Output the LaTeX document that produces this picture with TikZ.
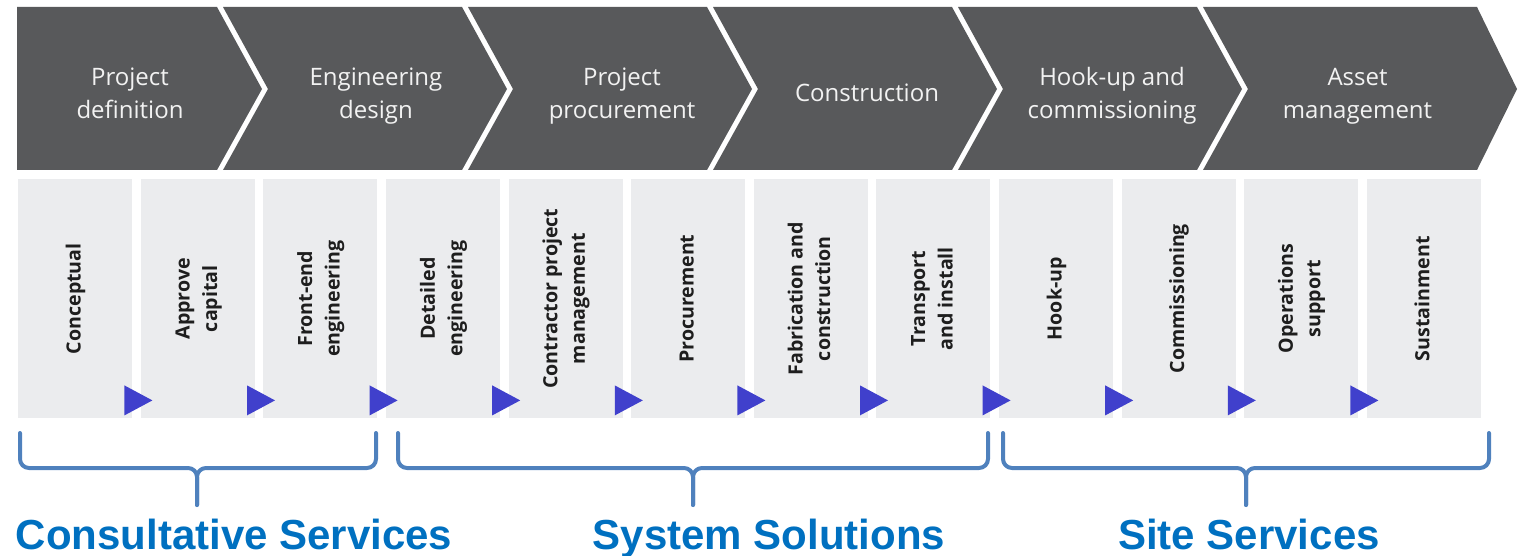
\documentclass[tikz,border=0pt]{standalone}
\usepackage{fontspec}
\usepackage{graphicx}
\setmainfont{Open Sans}
\newfontfamily\labelfont{Liberation Sans}
\usetikzlibrary{calc}
\definecolor{chev}{RGB}{88,89,91}
\definecolor{boxgray}{RGB}{235,236,238}
\definecolor{triblue}{RGB}{64,64,204}
\definecolor{braceblue}{RGB}{79,129,189}
\definecolor{lbl}{RGB}{0,112,192}
\definecolor{chevtext}{RGB}{242,242,242}
\definecolor{boxtext}{RGB}{30,30,30}
\newcommand\groupbrace[3]{%
  \draw[bracepath,rounded corners=9pt] (#1,433) -- (#1,468) -- (#2,468) -- (#2,505);
  \draw[bracepath,rounded corners=9pt] (#3,433) -- (#3,468) -- (#2,468) -- (#2,505);}
\begin{document}
\begin{tikzpicture}[x=1pt,y=-1pt,
  chevtxt/.style={text=chevtext, font=\fontsize{24}{33}\selectfont, align=center, inner sep=0pt},
  stagebox/.style={fill=boxgray, draw=none, minimum width=114pt, minimum height=239pt,
     anchor=north west, inner sep=0pt, text=boxtext, font=\bfseries\fontsize{19.6}{27.5}\selectfont},
  tri/.style={fill=triblue},
  bracepath/.style={draw=braceblue, line width=4pt, line cap=round, line join=round},
  grouplabel/.style={text=lbl, font=\labelfont\bfseries\fontsize{42}{50}\selectfont, anchor=base, inner sep=0pt}]
\useasboundingbox (0,0) rectangle (1518,556);
% chevrons
\fill[chev] (17,7) -- (217,7) -- (262,89) -- (217,170) -- (17,170) -- cycle;
\foreach \i in {1,...,4}{
  \fill[chev] ({223+245*(\i-1)},7) -- ({217+245*\i},7) -- ({262+245*\i},89) -- ({217+245*\i},170)
     -- ({223+245*(\i-1)},170) -- ({268+245*(\i-1)},89) -- cycle;
}
\fill[chev] (1203,7) -- (1477,7) -- (1517,89) -- (1477,170) -- (1203,170) -- (1248,89) -- cycle;
\node[chevtxt] (c1) at (130,95) {\strut Project\\\strut definition};
\node[chevtxt] (c2) at (376,95) {\strut Engineering\\\strut design};
\node[chevtxt] (c3) at (622,95) {\strut Project\\\strut procurement};
\node[chevtxt] (c4) at (867,94.5) {\strut Construction};
\node[chevtxt] (c5) at (1112,95) {\strut Hook-up and\\\strut commissioning};
\node[chevtxt] (c6) at (1357.5,95) {\strut Asset\\\strut management};
% stage boxes
\foreach \t [count=\j from 0] in {{Conceptual},{Approve\\capital},{Front-end\\engineering},
   {Detailed\\engineering},{Contractor project\\management},{Procurement},
   {Fabrication and\\construction},{Transport\\and install},{Hook-up},{Commissioning},
   {Operations\\support},{Sustainment}}{
  \node[stagebox] (b\j) at ({18+122.6*\j},179) {\rotatebox{90}{\begin{tabular}{@{}c@{}}\t\end{tabular}}};
}
\foreach \j in {0,...,10}{
  \fill[tri] ($(b\j.south east)+(-8,-33)$) -- ($(b\j.south east)+(-8,-3)$) -- ($(b\j.south east)+(20,-18)$) -- cycle;
}
% braces
\groupbrace{20}{197}{376}
\groupbrace{398}{693}{988}
\groupbrace{1003}{1246}{1489}
\node[grouplabel] (l1) at (234,549) {Consultative Services};
\node[grouplabel] (l2) at (769,549) {System Solutions};
\node[grouplabel] (l3) at (1249,549) {Site Services};
\end{tikzpicture}
\end{document}
